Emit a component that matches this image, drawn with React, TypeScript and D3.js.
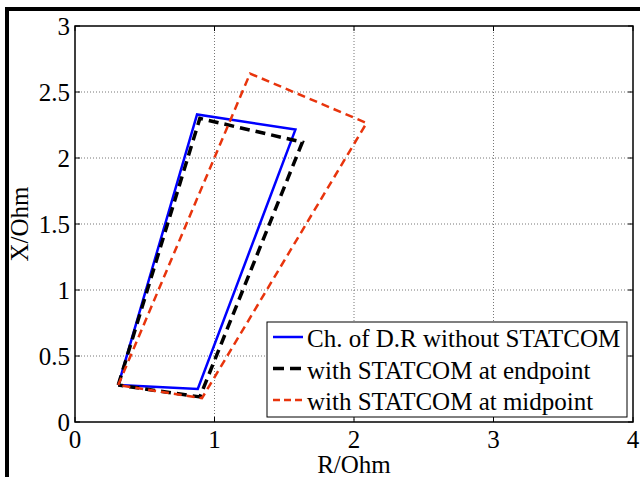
import React from 'react'
import * as d3 from 'd3'

// impedance trajectories (R, X in Ohm)
const withoutStatcom: [number, number][] = [
  [0.31, 0.28], [0.875, 2.33], [1.58, 2.215], [0.88, 0.25], [0.31, 0.28],
]
const atEndpoint: [number, number][] = [
  [0.31, 0.28], [0.895, 2.3], [1.63, 2.12], [0.895, 0.19], [0.31, 0.28],
]
const atMidpoint: [number, number][] = [
  [0.31, 0.28], [1.255, 2.64], [2.09, 2.265], [0.91, 0.18], [0.31, 0.28],
]
const xTicks = [0, 1, 2, 3, 4]
const yTicks = [0, 0.5, 1, 1.5, 2, 2.5, 3]
const legendLabels = [
  'Ch. of D.R without STATCOM',
  'with STATCOM at endpoint',
  'with STATCOM at midpoint',
]

const W = 640
const H = 477
const left = 75, right = 633, top = 26, bottom = 422
const font = "'Liberation Serif', 'Times New Roman', serif"
const fs = 25

export default function App() {
  const x = d3.scaleLinear().domain([0, 4]).range([left, right])
  const y = d3.scaleLinear().domain([0, 3]).range([bottom, top])
  const line = d3.line<[number, number]>().x(d => x(d[0])).y(d => y(d[1]))

  const series = [
    { data: withoutStatcom, color: '#0000ff', width: 2.5, dash: undefined, legendDash: undefined },
    { data: atEndpoint, color: '#000000', width: 3.5, dash: '10,6', legendDash: '11,6' },
    { data: atMidpoint, color: '#e8340c', width: 2.5, dash: '8,5', legendDash: '7,4' },
  ]

  return (
    <svg width={W} height={H} style={{ position: 'absolute', left: 0, top: 0, fontFamily: font }}>
      <rect x={0} y={0} width={W} height={H} fill="#fff" />
      <rect x={7} y={9} width={700} height={600} fill="none" stroke="#000" strokeWidth={4} />

      {/* grid */}
      {xTicks.slice(1, -1).map(t => (
        <line key={'gx' + t} x1={x(t)} x2={x(t)} y1={top} y2={bottom} stroke="#777" strokeDasharray="1,2" />
      ))}
      {yTicks.slice(1, -1).map(t => (
        <line key={'gy' + t} x1={left} x2={right} y1={y(t)} y2={y(t)} stroke="#777" strokeDasharray="1,2" />
      ))}

      {/* ticks */}
      {xTicks.map(t => (
        <g key={'tx' + t}>
          <line x1={x(t)} x2={x(t)} y1={bottom} y2={bottom - 5} stroke="#000" />
          <line x1={x(t)} x2={x(t)} y1={top} y2={top + 5} stroke="#000" />
          <text x={x(t)} y={bottom + 26} fontSize={fs} textAnchor="middle" style={{ fontFamily: font }}>{t}</text>
        </g>
      ))}
      {yTicks.map(t => (
        <g key={'ty' + t}>
          <line x1={left} x2={left + 5} y1={y(t)} y2={y(t)} stroke="#000" />
          <line x1={right} x2={right - 5} y1={y(t)} y2={y(t)} stroke="#000" />
          <text x={left - 5} y={y(t) + 9} fontSize={fs} textAnchor="end" style={{ fontFamily: font }}>{t}</text>
        </g>
      ))}

      {/* lines */}
      {series.map((s, i) => (
        <path key={i} d={line(s.data) || ''} fill="none" stroke={s.color} strokeWidth={s.width}
          strokeDasharray={s.dash} strokeLinejoin="miter" />
      ))}

      <rect x={left} y={top} width={right - left} height={bottom - top} fill="none" stroke="#000" strokeWidth={1.5} />

      {/* legend */}
      <rect x={267} y={322} width={360} height={95} fill="#fff" stroke="#000" strokeWidth={1} />
      {series.map((s, i) => (
        <g key={'lg' + i} transform={`translate(0, ${337 + i * 31.5})`}>
          <line x1={273} x2={303} y1={0} y2={0} stroke={s.color} strokeWidth={s.width}
            strokeDasharray={s.legendDash} />
          <text x={307} y={10} fontSize={fs} style={{ fontFamily: font }}>{legendLabels[i]}</text>
        </g>
      ))}

      <text x={(left + right) / 2} y={473} fontSize={fs} textAnchor="middle" style={{ fontFamily: font }}>R/Ohm</text>
      <text transform={`translate(28, ${(top + bottom) / 2}) rotate(-90)`} fontSize={fs} textAnchor="middle"
        style={{ fontFamily: font }}>X/Ohm</text>
    </svg>
  )
}
